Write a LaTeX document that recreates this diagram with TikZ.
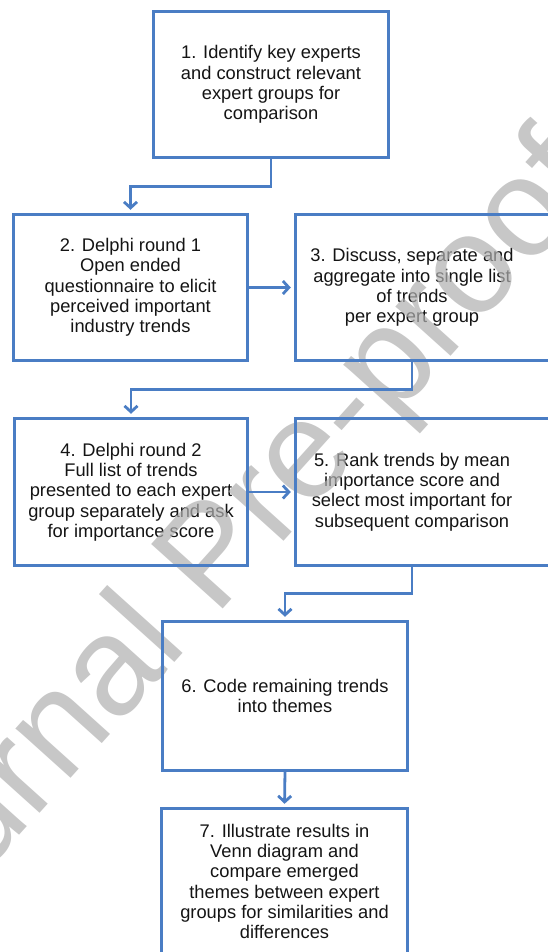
\documentclass[tikz,border=0pt]{standalone}
\usepackage{fontspec}
\setmainfont{Liberation Sans}
\usetikzlibrary{arrows.meta}
\definecolor{flowblue}{HTML}{4A7DC4}
\definecolor{inkgray}{HTML}{141414}
\definecolor{wmgray}{RGB}{175,175,175}
\begin{document}
\begin{tikzpicture}[x=1pt,y=-1pt,
  txt/.style={align=center, font=\fontsize{18.3}{20.3}\selectfont, text=inkgray, inner sep=0pt},
  frame/.style={draw=flowblue, line width=2.8pt},
  flow/.style={draw=flowblue, line width=2.8pt, -{Straight Barb[length=6pt,width=13pt]}, shorten >=5pt},
  wm/.style={font=\fontsize{140}{140}\selectfont, text=wmgray, opacity=0.7, rotate=48, inner sep=0pt, anchor=base west}]
\useasboundingbox (0,0) rectangle (548,952);
\clip (0,0) rectangle (548,952);
% text of the steps
\node[txt, minimum width=234pt, minimum height=145pt] (b1) at (271,84.5)
  {1. Identify key experts\\and construct relevant\\expert groups for\\comparison};
\node[txt, minimum width=233pt, minimum height=145pt] (b2) at (130.5,287.5)
  {2. Delphi round 1\\Open ended\\questionnaire to elicit\\perceived important\\industry trends};
\node[txt, minimum width=232pt, minimum height=145pt] (b3) at (412,287.5)
  {3. Discuss, separate and\\aggregate into single list\\of trends\\per expert group};
\node[txt, minimum width=232pt, minimum height=146pt] (b4) at (131,492)
  {4. Delphi round 2\\Full list of trends\\presented to each expert\\group separately and ask\\for importance score};
\node[txt, minimum width=232pt, minimum height=146pt] (b5) at (412,492)
  {5. Rank trends by mean\\importance score and\\select most important for\\subsequent comparison};
\node[txt, minimum width=244pt, minimum height=148pt] (b6) at (285,696)
  {6. Code remaining trends\\into themes};
\node[txt, minimum width=245pt, minimum height=145pt] (b7) at (284.5,881.5)
  {7. Illustrate results in\\Venn diagram and\\compare emerged\\themes between expert\\groups for similarities and\\differences};
% watermark
\node[wm] (wmark) at (-118,988) {Journal Pre-proof};
% frames
\draw[frame] (b1.north west) rectangle (b1.south east);
\draw[frame] (b2.north west) rectangle (b2.south east);
\draw[frame] (b3.north west) rectangle ([xshift=40pt]b3.south east);
\draw[frame] (b4.north west) rectangle (b4.south east);
\draw[frame] (b5.north west) rectangle ([xshift=40pt]b5.south east);
\draw[frame] (b6.north west) rectangle (b6.south east);
\draw[frame] (b7.north west) rectangle ([yshift=-10pt]b7.south east);
% connectors
\draw[flow] (b1.south) -- ++(0,29) -| (b2.north);
\draw[flow] (b2.east) -- (b3.west);
\draw[flow] (b3.south) -- ++(0,29) -| (b4.north);
\draw[flow] (b4.east) -- (b5.west);
\draw[flow] (b5.south) -- ++(0,28) -| (b6.north);
\draw[flow] (b6.south) -- (b7.north);
\end{tikzpicture}
\end{document}
